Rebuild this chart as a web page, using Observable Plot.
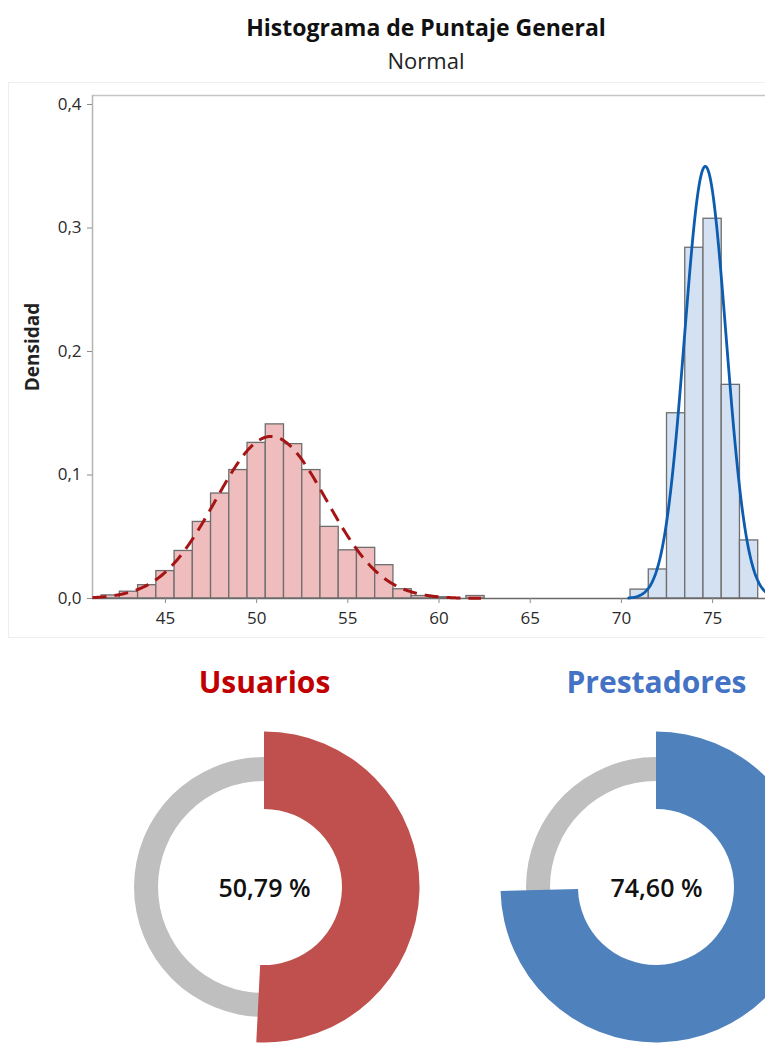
<!DOCTYPE html>
<html>
<head>
<meta charset="utf-8">
<script src="https://cdn.jsdelivr.net/npm/d3@7"></script>
<script src="https://cdn.jsdelivr.net/npm/@observablehq/plot@0.6"></script>
<style>
  html, body { margin: 0; padding: 0; background: #fff; }
  body { width: 765px; height: 1043px; overflow: hidden; position: relative; font-family: "Open Sans", "Noto Sans", sans-serif; }
  #title { position: absolute; left: 0; width: 852px; top: 12px; text-align: center; font-weight: 700; font-size: 23px; color: #111; line-height: 30px; }
  #subtitle { position: absolute; left: 0; width: 852px; top: 45px; text-align: center; font-weight: 400; font-size: 22px; color: #222; line-height: 30px; }
  #frame { position: absolute; left: 8px; top: 82px; width: 820px; height: 554px; border: 1px solid #eeeeee; }
  #hist { position: absolute; left: 0; top: 80px; }
  #donuts { position: absolute; left: 0; top: 640px; }
</style>
</head>
<body>
<div id="frame"></div>
<div id="title">Histograma de Puntaje General</div>
<div id="subtitle">Normal</div>
<div id="hist"></div>
<div id="donuts"></div>
<script>
// ---- Histogram data (density per 1-unit bin, bins centred on integers) ----
const usuariosBinCenters = [42, 43, 44, 45, 46, 47, 48, 49, 50, 51, 52, 53, 54, 55, 56, 57, 58, 59, 60, 62];
const usuariosDensity    = [0.0025, 0.0055, 0.0108, 0.0222, 0.0385, 0.062, 0.085, 0.104, 0.126, 0.141, 0.125, 0.104, 0.058, 0.039, 0.041, 0.027, 0.0075, 0.002, 0.001, 0.002];
const prestadoresBinCenters = [71, 72, 73, 74, 75, 76, 77];
const prestadoresDensity    = [0.0072, 0.0235, 0.150, 0.284, 0.3075, 0.173, 0.047];

// ---- Normal fits (mean, standard deviation, drawn range) ----
const fitMean  = [50.79, 74.60];
const fitSD    = [3.04, 1.14];
const fitFrom  = [41.0, 70.4];
const fitTo    = [62.3, 77.9];

// ---- Axis ticks ----
const xTicks = [45, 50, 55, 60, 65, 70, 75];
const yTicks = [0, 0.1, 0.2, 0.3, 0.4];

// ---- Donut data ----
const groups      = ["Usuarios", "Prestadores"];
const percentages = [50.79, 74.60];
const groupColors = ["#C0504D", "#4F81BD"];
const titleColors = ["#C00000", "#4472C4"];

// build tables
const redBins  = usuariosBinCenters.map((c, i) => ({c, v: usuariosDensity[i]}));
const blueBins = prestadoresBinCenters.map((c, i) => ({c, v: prestadoresDensity[i]}));
function fitLine(k) {
  const pts = [];
  const m = fitMean[k], s = fitSD[k];
  for (let x = fitFrom[k]; x <= fitTo[k] + 1e-9; x += 0.05) {
    pts.push({x, y: Math.exp(-0.5 * ((x - m) / s) ** 2) / (s * Math.sqrt(2 * Math.PI))});
  }
  return pts;
}
const redCurve = fitLine(0);
const blueCurve = fitLine(1);

const X0 = 41.0, X1 = 77.9, YMAX = 0.4073;
const comma1 = d => d.toFixed(1).replace(".", ",");

const hist = Plot.plot({
  width: 765, height: 560,
  marginTop: 15, marginBottom: 42, marginLeft: 92, marginRight: 0,
  x: {domain: [X0, X1]},
  y: {domain: [0, YMAX]},
  style: {fontFamily: "'Open Sans', 'Noto Sans', sans-serif", fontSize: "17px", color: "#2a2a2a", background: "transparent", overflow: "visible"},
  marks: [
    Plot.ruleY([YMAX], {stroke: "#c6c6c6", strokeWidth: 1.5}),
    Plot.ruleX([X0], {stroke: "#b5b5b5", strokeWidth: 1.5}),
    Plot.rectY(redBins, {x1: d => d.c - 0.5, x2: d => d.c + 0.5, y: "v", fill: "#EFBDBD", stroke: "#6e6e6e", strokeWidth: 1.3}),
    Plot.rectY(blueBins, {x1: d => d.c - 0.5, x2: d => d.c + 0.5, y: "v", fill: "#D3E1F3", stroke: "#6e6e6e", strokeWidth: 1.3}),
    Plot.ruleY([0], {stroke: "#6a6a6a", strokeWidth: 1.6}),
    Plot.line(redCurve, {x: "x", y: "y", stroke: "#A51515", strokeWidth: 3, strokeDasharray: "14,8", strokeLinecap: "butt"}),
    Plot.line(blueCurve, {x: "x", y: "y", stroke: "#0C5CB0", strokeWidth: 2.8}),
    Plot.axisY({ticks: yTicks, tickFormat: comma1, tickSize: 5, tickPadding: 6, label: null, stroke: "#8c8c8c"}),
    Plot.axisX({ticks: xTicks, tickFormat: d => String(d), tickSize: 5, tickPadding: 8, label: null, stroke: "#8c8c8c"}),
    Plot.text(["Densidad"], {frameAnchor: "left", dx: -60, rotate: -90, textAnchor: "middle", fontWeight: "bold", fontSize: 19, fill: "#222"})
  ]
});
document.getElementById("hist").appendChild(hist);

// ---- Donuts ----
const donutData = groups.map((g, i) => ({g, p: percentages[i], color: groupColors[i], tcolor: titleColors[i]}));
const CY = 247;
const donuts = Plot.plot({
  width: 765, height: 403,
  margin: 0,
  x: {type: "point", domain: groups, range: [263.5, 655.7], padding: 0},
  y: {domain: [0, 403], range: [0, 403]},
  style: {fontFamily: "'Open Sans', 'Noto Sans', sans-serif", background: "transparent", overflow: "visible"},
  axis: null,
  marks: [
    (index, scales) => {
      const g = d3.create("svg:g");
      donutData.forEach(d => {
        const gg = g.append("g").attr("transform", `translate(${scales.x(d.g)},${scales.y(CY)})`);
        gg.append("path")
          .attr("d", d3.arc()({innerRadius: 106, outerRadius: 130, startAngle: 0, endAngle: 2 * Math.PI}))
          .attr("fill", "#BFBFBF");
        gg.append("path")
          .attr("d", d3.arc()({innerRadius: 78, outerRadius: 155.5, startAngle: 0, endAngle: 2 * Math.PI * d.p / 100}))
          .attr("fill", d.color);
      });
      return g.node();
    },
    Plot.text(donutData, {x: "g", y: () => 43, text: "g", fill: "tcolor", fontSize: 30, fontWeight: "bold"}),
    Plot.text(donutData, {x: "g", y: () => CY + 1, text: d => d.p.toFixed(2).replace(".", ",") + " %", fill: "#111", fontSize: 25, fontWeight: 600})
  ]
});
document.getElementById("donuts").appendChild(donuts);
</script>
</body>
</html>
